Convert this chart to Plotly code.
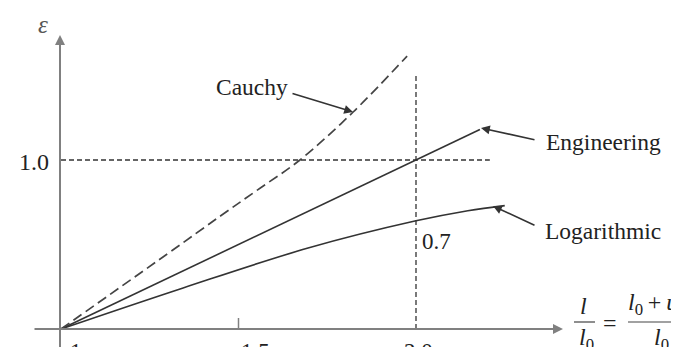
import plotly.graph_objects as go

# ---- data ----
stretch_eng = [1.0, 2.0, 2.18]
strain_eng = [0.0, 1.0, 1.18]

stretch_log = [1.0, 1.344, 1.696, 2.0, 2.146, 2.25]
strain_log = [0.0, 0.243, 0.479, 0.64, 0.70, 0.73]

stretch_cau = [1.0, 1.3, 1.45, 1.555, 1.673, 1.823, 1.975]
strain_cau = [0.0, 0.445, 0.67, 0.825, 1.0, 1.284, 1.615]

x_ticks = [1, 1.5, 2.0]
x_tick_text = ["1", "1.5", "2.0"]
ref_strain = 1.0
ref_stretch = 2.0
log_mark_text = "0.7"

W, H = 679, 347
X0PX, Y0PX = 53, 321       # pixel of (1, 0)
SX, SY = 355.0, 169.0      # pixels per unit

def px(x):
    return x / W

def py(y):
    return 1 - y / H

FONT = "Liberation Serif"
LINE = "#333333"
AX = "#808080"
TXT = "#222222"

fig = go.Figure()
fig.add_trace(go.Scatter(x=stretch_eng, y=strain_eng, mode="lines",
                         line=dict(color=LINE, width=1.6), hoverinfo="skip"))
fig.add_trace(go.Scatter(x=stretch_log, y=strain_log, mode="lines", line_shape="spline",
                         line=dict(color=LINE, width=1.6), hoverinfo="skip"))
fig.add_trace(go.Scatter(x=stretch_cau, y=strain_cau, mode="lines", line_shape="spline",
                         line=dict(color="#444444", width=1.7, dash="10px,5px"), hoverinfo="skip"))

xr = [1 - X0PX / SX, 1 + (W - X0PX) / SX]
yr = [-(H - Y0PX) / SY, Y0PX / SY]

shapes = [
    # reference dashed lines
    dict(type="line", x0=1.0, x1=2.208, y0=ref_strain, y1=ref_strain, xref="x", yref="y",
         line=dict(color="#333333", width=1.3, dash="5px,3px")),
    dict(type="line", x0=ref_stretch, x1=ref_stretch, y0=0, y1=1.515, xref="x", yref="y",
         line=dict(color="#333333", width=1.3, dash="5px,3px")),
    # tick mark at 1.5
    dict(type="line", x0=1.5, x1=1.5, y0=0, y1=0.065, xref="x", yref="y",
         line=dict(color=AX, width=1.5)),
    # fraction bars
    dict(type="line", x0=px(566), x1=px(587), y0=py(314), y1=py(314), xref="paper", yref="paper",
         line=dict(color="#444444", width=1.2)),
    dict(type="line", x0=px(620), x1=px(682), y0=py(314), y1=py(314), xref="paper", yref="paper",
         line=dict(color="#444444", width=1.2)),
]

ann = []
# axes with arrowheads
ann.append(dict(x=1 + 502 / SX, y=0, ax=1 - 28 / SX, ay=0, xref="x", yref="y", axref="x", ayref="y",
                text="", showarrow=True, arrowhead=2, arrowsize=1, arrowwidth=2, arrowcolor=AX))
ann.append(dict(x=1 - 1 / SX, y=(Y0PX - 27) / SY, ax=1 - 1 / SX, ay=-(345 - Y0PX) / SY,
                xref="x", yref="y", axref="x", ayref="y",
                text="", showarrow=True, arrowhead=2, arrowsize=1, arrowwidth=2, arrowcolor=AX))

# labelling arrows (tip at pixel position, tail as pixel offset)
def arrow(tip, tail):
    return dict(x=px(tip[0]), y=py(tip[1]), ax=tail[0] - tip[0], ay=tail[1] - tip[1],
                xref="paper", yref="paper", axref="pixel", ayref="pixel",
                text="", showarrow=True, arrowhead=2, arrowsize=1.1, arrowwidth=1.6,
                arrowcolor="#333333")

ann.append(arrow((345, 104), (283, 85)))
ann.append(arrow((473, 120), (528, 132)))
ann.append(arrow((485, 198), (528, 218)))

def text(t, x, y, size=23.5, xanchor="center", color=TXT):
    return dict(x=px(x), y=py(y), xref="paper", yref="paper", text=t, showarrow=False,
                xanchor=xanchor, yanchor="middle", font=dict(family=FONT, size=size, color=color))

ann.append(text("Cauchy", 244, 79))
ann.append(text("Engineering", 595, 134))
ann.append(text("Logarithmic", 595, 223))
ann.append(text(log_mark_text, 412, 233, 23, xanchor="left"))
ann.append(text(f"{ref_strain:.1f}", 43, 154, 24, xanchor="right"))
ann.append(text("<i>ε</i>", 35, 17, 25, color="#555555"))

# x tick labels (slightly cut off at the bottom, as in the reference)
tick_px = [68, 247, 410]
for t, xp in zip(x_tick_text, tick_px):
    ann.append(text(t, xp, 343, 23))

# axis title  l/l0 = (l0+u)/l0
ann.append(text("<i>l</i>", 575, 298, 24))
ann.append(text("<i>l</i><sub>0</sub>", 578, 331, 24))
ann.append(text("=", 602, 315, 24))
ann.append(text("<i>l</i><sub>0</sub>\u2009+\u2009<i>u</i>", 618, 296, 24, xanchor="left"))
ann.append(text("<i>l</i><sub>0</sub>", 653, 331, 24))

fig.update_layout(
    width=W, height=H, autosize=False,
    margin=dict(l=0, r=0, t=0, b=0, pad=0),
    paper_bgcolor="white", plot_bgcolor="white",
    showlegend=False,
    xaxis=dict(range=xr, visible=False, fixedrange=True),
    yaxis=dict(range=yr, visible=False, fixedrange=True),
    shapes=shapes, annotations=ann,
)

fig.write_html("out.html")
